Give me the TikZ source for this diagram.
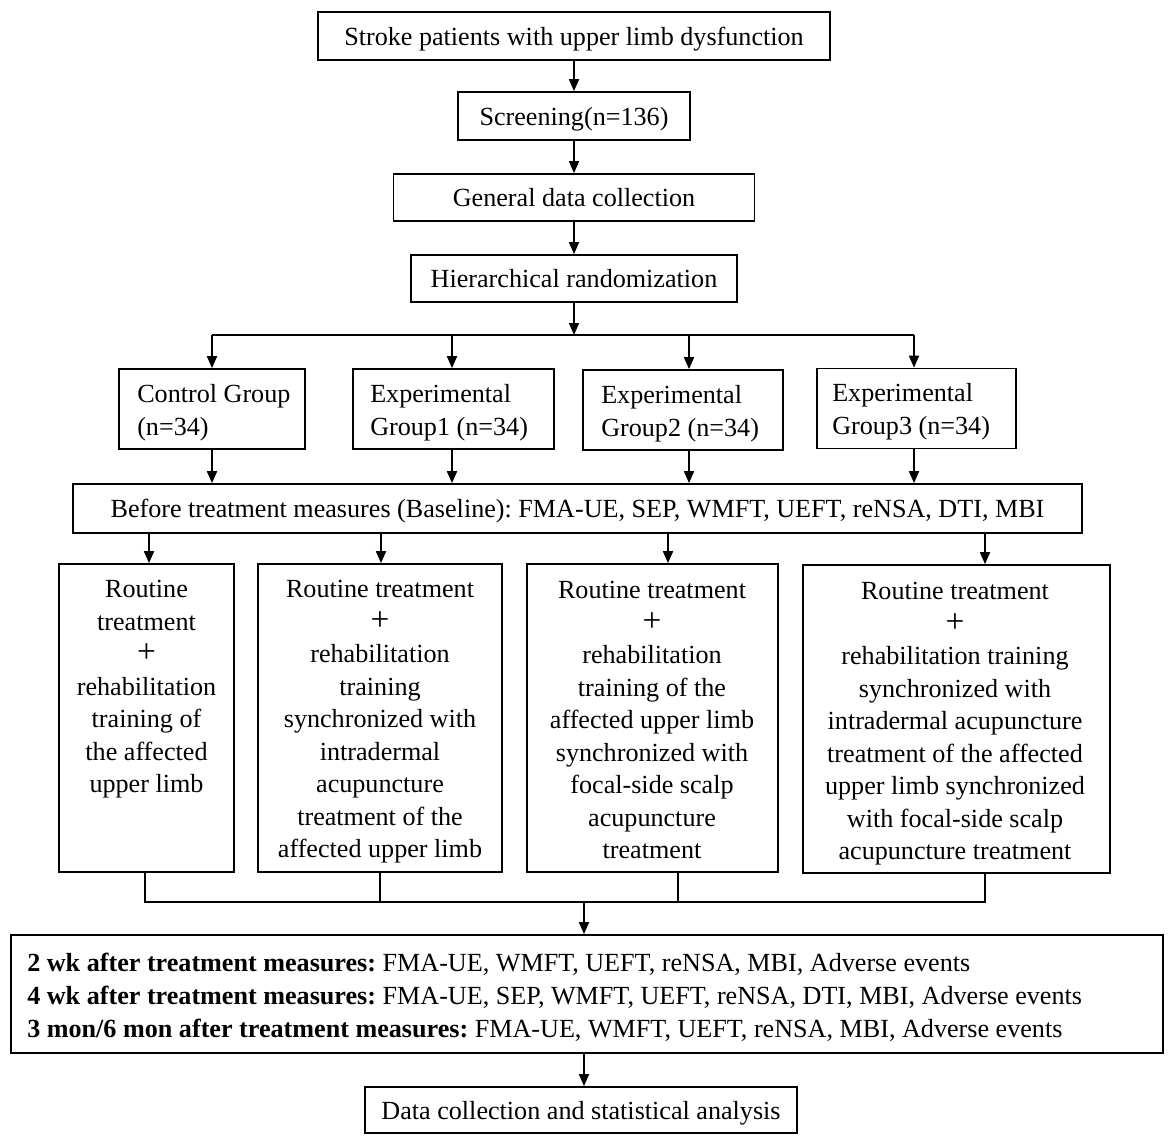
\documentclass[tikz,border=0pt]{standalone}
\usepackage{fontspec}
\setmainfont{Liberation Serif}
\usetikzlibrary{arrows.meta}
\newcommand{\bigplus}{{\fontsize{25}{24.4}\selectfont +}}
\begin{document}
\frenchspacing
\begin{tikzpicture}[x=0.75pt,y=-0.75pt,
  font=\fontsize{19.6}{24.4}\selectfont,
  box/.style={draw, line width=1.3pt, inner sep=0pt, align=center, text depth=0pt},
  wh/.style 2 args={minimum width=#1*0.75pt, minimum height=#2*0.75pt},
  gtxt/.style={inner sep=0pt, align=left, anchor=west, font=\fontsize{19.6}{24.75}\selectfont},
  txt/.style={inner sep=0pt, align=center, anchor=north},
  arr/.style={line width=1.3pt, -{Triangle[length=9pt,width=7.5pt]}},
  ln/.style={line width=1.3pt}]
\fill[white] (0,0) rectangle (1170,1146);
\useasboundingbox (0,0) rectangle (1170,1146);
% top chain
\node[box, wh={512}{48}] (n1) at (574,36) {Stroke patients with upper limb dysfunction};
\node[box, wh={232}{48}] (n2) at (574,116) {Screening(n=136)};
\node[box, wh={361}{47}] (n3) at (574,197.5) {General data collection};
\node[box, wh={326}{47}] (n4) at (574,278.5) {Hierarchical randomization};
\draw[arr] (n1) -- (n2);
\draw[arr] (n2) -- (n3);
\draw[arr] (n3) -- (n4);
% branch
\coordinate (br) at (574,335);
\coordinate (b1) at (212,335);
\coordinate (b2) at (452,335);
\coordinate (b3) at (689,335);
\coordinate (b4) at (914,335);
\draw[arr] (n4) -- (br);
\draw[ln] (b1) -- (b4);
% groups
\node[box, wh={186}{80}] (g1) at (212,409) {};
\node[box, wh={201}{80}] (g2) at (453.5,409) {};
\node[box, wh={200}{80}] (g3) at (683,410) {};
\node[box, wh={199}{80}] (g4) at (916.5,408.5) {};
\node[gtxt] (gt1) at (137,413) {Control Group\\(n=34)};
\node[gtxt] (gt2) at (370,413) {Experimental\\Group1 (n=34)};
\node[gtxt] (gt3) at (601,414) {Experimental\\Group2 (n=34)};
\node[gtxt] (gt4) at (832,412) {Experimental\\Group3 (n=34)};
\draw[arr] (b1) -- (b1 |- g1.north);
\draw[arr] (b2) -- (b2 |- g2.north);
\draw[arr] (b3) -- (b3 |- g3.north);
\draw[arr] (b4) -- (b4 |- g4.north);
% baseline
\node[box, wh={1009}{49}] (base) at (577.5,508.5) {Before treatment measures (Baseline): FMA-UE, SEP, WMFT, UEFT, reNSA, DTI, MBI};
\draw[arr] (b1 |- g1.south) -- (b1 |- base.north);
\draw[arr] (b2 |- g2.south) -- (b2 |- base.north);
\draw[arr] (b3 |- g3.south) -- (b3 |- base.north);
\draw[arr] (b4 |- g4.south) -- (b4 |- base.north);
% treatments
\node[box, wh={175}{308}] (tb1) at (146.5,718) {};
\node[box, wh={244}{308}] (tb2) at (380,718) {};
\node[box, wh={251}{308}] (tb3) at (652.5,718) {};
\node[box, wh={307}{308}] (tb4) at (956.5,719) {};
\node[txt] (tt1) at (146.5,580) {Routine\\treatment\\\bigplus\\rehabilitation\\training of\\the affected\\upper limb};
\node[txt] (tt2) at (380,580) {Routine treatment\\\bigplus\\rehabilitation\\training\\synchronized with\\intradermal\\acupuncture\\treatment of the\\affected upper limb};
\node[txt] (tt3) at (652,581) {Routine treatment\\\bigplus\\rehabilitation\\training of the\\affected upper limb\\synchronized with\\focal-side scalp\\acupuncture\\treatment};
\node[txt] (tt4) at (955,582) {Routine treatment\\\bigplus\\rehabilitation training\\synchronized with\\intradermal acupuncture\\treatment of the affected\\upper limb synchronized\\with focal-side scalp\\acupuncture treatment};
\coordinate (d1) at (149,533);
\coordinate (d2) at (381,533);
\coordinate (d3) at (668,533);
\coordinate (d4) at (985,533);
\draw[arr] (d1 |- base.south) -- (d1 |- tb1.north);
\draw[arr] (d2 |- base.south) -- (d2 |- tb2.north);
\draw[arr] (d3 |- base.south) -- (d3 |- tb3.north);
\draw[arr] (d4 |- base.south) -- (d4 |- tb4.north);
% merge
\coordinate (e1) at (145,902);
\coordinate (e2) at (380,902);
\coordinate (e3) at (678,902);
\coordinate (e4) at (985,902);
\coordinate (em) at (584,902);
\draw[ln] (e1 |- tb1.south) -- (e1) -- (e4) -- (e4 |- tb4.south);
\draw[ln] (e2 |- tb2.south) -- (e2);
\draw[ln] (e3 |- tb3.south) -- (e3);
% measures
\node[box, wh={1152}{118}] (meas) at (587,994) {};
\node[gtxt] (mt) at (27,997)
 {\textbf{2 wk after treatment measures:} FMA-UE, WMFT, UEFT, reNSA, MBI, Adverse events\\
  \textbf{4 wk after treatment measures:} FMA-UE, SEP, WMFT, UEFT, reNSA, DTI, MBI, Adverse events\\
  \textbf{3 mon/6 mon after treatment measures:} FMA-UE, WMFT, UEFT, reNSA, MBI, Adverse events};
\draw[arr] (em) -- (em |- meas.north);
\node[box, wh={432}{46}] (fin) at (581,1110) {Data collection and statistical analysis};
\draw[arr] (em |- meas.south) -- (em |- fin.north);
\end{tikzpicture}
\end{document}
